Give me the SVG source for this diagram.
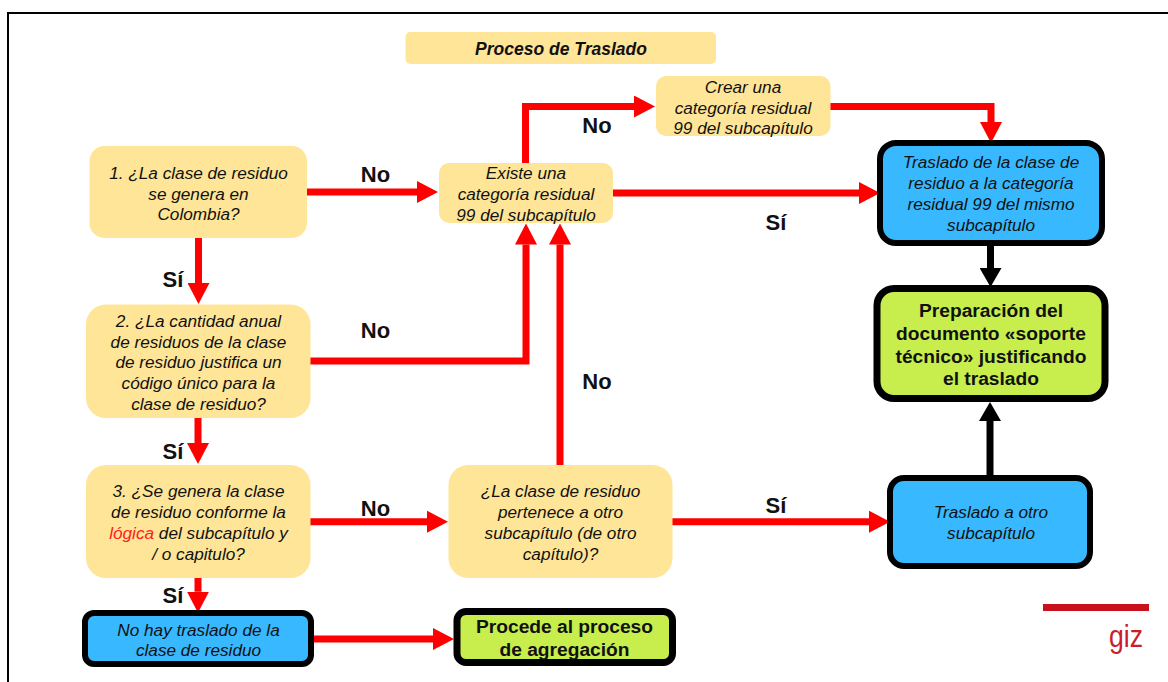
<svg xmlns="http://www.w3.org/2000/svg" width="1168" height="682" viewBox="0 0 1168 682">
<style>
text{font-family:"Liberation Sans",Arial,sans-serif;text-anchor:middle;fill:#111}
.q{font-size:17.2px;font-style:italic}
.b{font-size:19.200px;font-weight:bold}
.l{font-size:22px;font-weight:bold}
.y{fill:#ffe597}
.bl{fill:#38b9ff;stroke:#000;stroke-width:6}
.g{fill:#c7ee4d;stroke:#000;stroke-width:7}
.r{fill:none;stroke:#f00;stroke-width:7;marker-end:url(#ar)}
.k{fill:none;stroke:#000;stroke-width:7;marker-end:url(#ak)}
</style>
<defs>
<marker id="ar" markerUnits="userSpaceOnUse" markerWidth="21" markerHeight="22" viewBox="0 0 21 22" refX="0" refY="11" orient="auto"><path d="M0 0L21 11L0 22Z" fill="#f00"/></marker>
<marker id="ak" markerUnits="userSpaceOnUse" markerWidth="19" markerHeight="22" viewBox="0 0 19 22" refX="0" refY="11" orient="auto"><path d="M0 0L19 11L0 22Z" fill="#000"/></marker>
</defs>
<rect width="1168" height="682" fill="#fff"/>
<path id="frame" d="M8 682V13H1168" fill="none" stroke="#000" stroke-width="2"/>
<g id="connectors">
<path class="r" d="M307 192H417"/>
<path class="r" d="M198.500 238V283"/>
<path class="r" d="M525.500 163V106.500H634"/>
<path class="r" d="M830 106.500H991V122"/>
<path class="r" d="M613 193H859"/>
<path class="r" d="M310 361H526V244.500"/>
<path class="r" d="M560 465V244.500"/>
<path class="r" d="M198 418V443"/>
<path class="r" d="M310 521.700H427"/>
<path class="r" d="M198 578V591.700"/>
<path class="r" d="M314 639H433"/>
<path class="r" d="M672 521.700H869"/>
<path class="k" d="M990.500 246V268"/>
<path class="k" d="M990 475V421"/>
</g>
<g id="title"><rect class="y" x="405.500" y="32" width="310.500" height="32" rx="5"/><text x="561" y="54.500" style="font-size:17.500px;font-weight:bold;font-style:italic">Proceso de Traslado</text></g>
<g id="n1"><rect class="y" x="89.500" y="146" width="217.500" height="92" rx="15"/><text class="q" x="198.500"><tspan x="198.500" y="178.700">1. ¿La clase de residuo</tspan><tspan x="198.500" y="199.700">se genera en</tspan><tspan x="198.500" y="220">Colombia?</tspan></text></g>
<g id="n-existe"><rect class="y" x="439" y="163" width="174" height="60" rx="10"/><text class="q"><tspan x="526" y="179.300">Existe una</tspan><tspan x="526" y="200">categoría residual</tspan><tspan x="526" y="220.500">99 del subcapítulo</tspan></text></g>
<g id="n-crear"><rect class="y" x="656" y="76" width="174.500" height="60" rx="10"/><text class="q"><tspan x="743" y="92.700">Crear una</tspan><tspan x="743" y="113.700">categoría residual</tspan><tspan x="743" y="134">99 del subcapítulo</tspan></text></g>
<g id="n-traslado99"><rect class="bl" x="880" y="143" width="222" height="100" rx="16"/><text class="q"><tspan x="991" y="168.300">Traslado de la clase de</tspan><tspan x="991" y="189">residuo a la categoría</tspan><tspan x="991" y="210">residual 99 del mismo</tspan><tspan x="991" y="230.700">subcapítulo</tspan></text></g>
<g id="n-prep"><rect class="g" x="877" y="288.500" width="228" height="110" rx="17"/><text class="b"><tspan x="991" y="316.700">Preparación del</tspan><tspan x="991" y="339.500">documento «soporte</tspan><tspan x="991" y="362.700">técnico» justificando</tspan><tspan x="991" y="385">el traslado</tspan></text></g>
<g id="n2"><rect class="y" x="86" y="304.500" width="224.500" height="113.500" rx="20"/><text class="q"><tspan x="198.500" y="326.700">2. ¿La cantidad anual</tspan><tspan x="198.500" y="347.500">de residuos de la clase</tspan><tspan x="198.500" y="368">de residuo justifica un</tspan><tspan x="198.500" y="389">código único para la</tspan><tspan x="198.500" y="410">clase de residuo?</tspan></text></g>
<g id="n3"><rect class="y" x="86" y="465" width="224.500" height="113" rx="20"/><text class="q"><tspan x="198.500" y="497">3. ¿Se genera la clase</tspan><tspan x="198.500" y="518">de residuo conforme la</tspan><tspan x="198.500" y="539"><tspan style="fill:#ff2020">lógica</tspan> del subcapítulo y</tspan><tspan x="198.500" y="560">/ o capitulo?</tspan></text></g>
<g id="n-otro"><rect class="y" x="448.500" y="465" width="224" height="113" rx="20"/><text class="q"><tspan x="560.500" y="497">¿La clase de residuo</tspan><tspan x="560.500" y="518">pertenece a otro</tspan><tspan x="560.500" y="539">subcapítulo (de otro</tspan><tspan x="560.500" y="560">capítulo)?</tspan></text></g>
<g id="n-nohay"><rect class="bl" x="85" y="613" width="226" height="51" rx="9"/><text class="q"><tspan x="198.500" y="635.700">No hay traslado de la</tspan><tspan x="198.500" y="656">clase de residuo</tspan></text></g>
<g id="n-procede"><rect class="g" x="457" y="611.500" width="215.500" height="51" rx="9"/><text class="b"><tspan x="564.500" y="632.700">Procede al proceso</tspan><tspan x="564.500" y="656">de agregación</tspan></text></g>
<g id="n-trasotro"><rect class="bl" x="890" y="478" width="200" height="88" rx="14"/><text class="q"><tspan x="991" y="518">Traslado a otro</tspan><tspan x="991" y="539">subcapítulo</tspan></text></g>
<g id="labels">
<text class="l" x="375.500" y="182">No</text>
<text class="l" x="375.500" y="338">No</text>
<text class="l" x="375.500" y="515.700">No</text>
<text class="l" x="597" y="133">No</text>
<text class="l" x="597" y="389">No</text>
<text class="l" x="173" y="286.700">Sí</text>
<text class="l" x="173" y="458.700">Sí</text>
<text class="l" x="173" y="603">Sí</text>
<text class="l" x="776" y="230">Sí</text>
<text class="l" x="776" y="513">Sí</text>
</g>
<g id="logo"><rect x="1043" y="604" width="106" height="7" fill="#c8111a"/><text x="1126" y="647" textLength="34" lengthAdjust="spacingAndGlyphs" style="font-size:32px;fill:#c8202a">giz</text></g>
</svg>
